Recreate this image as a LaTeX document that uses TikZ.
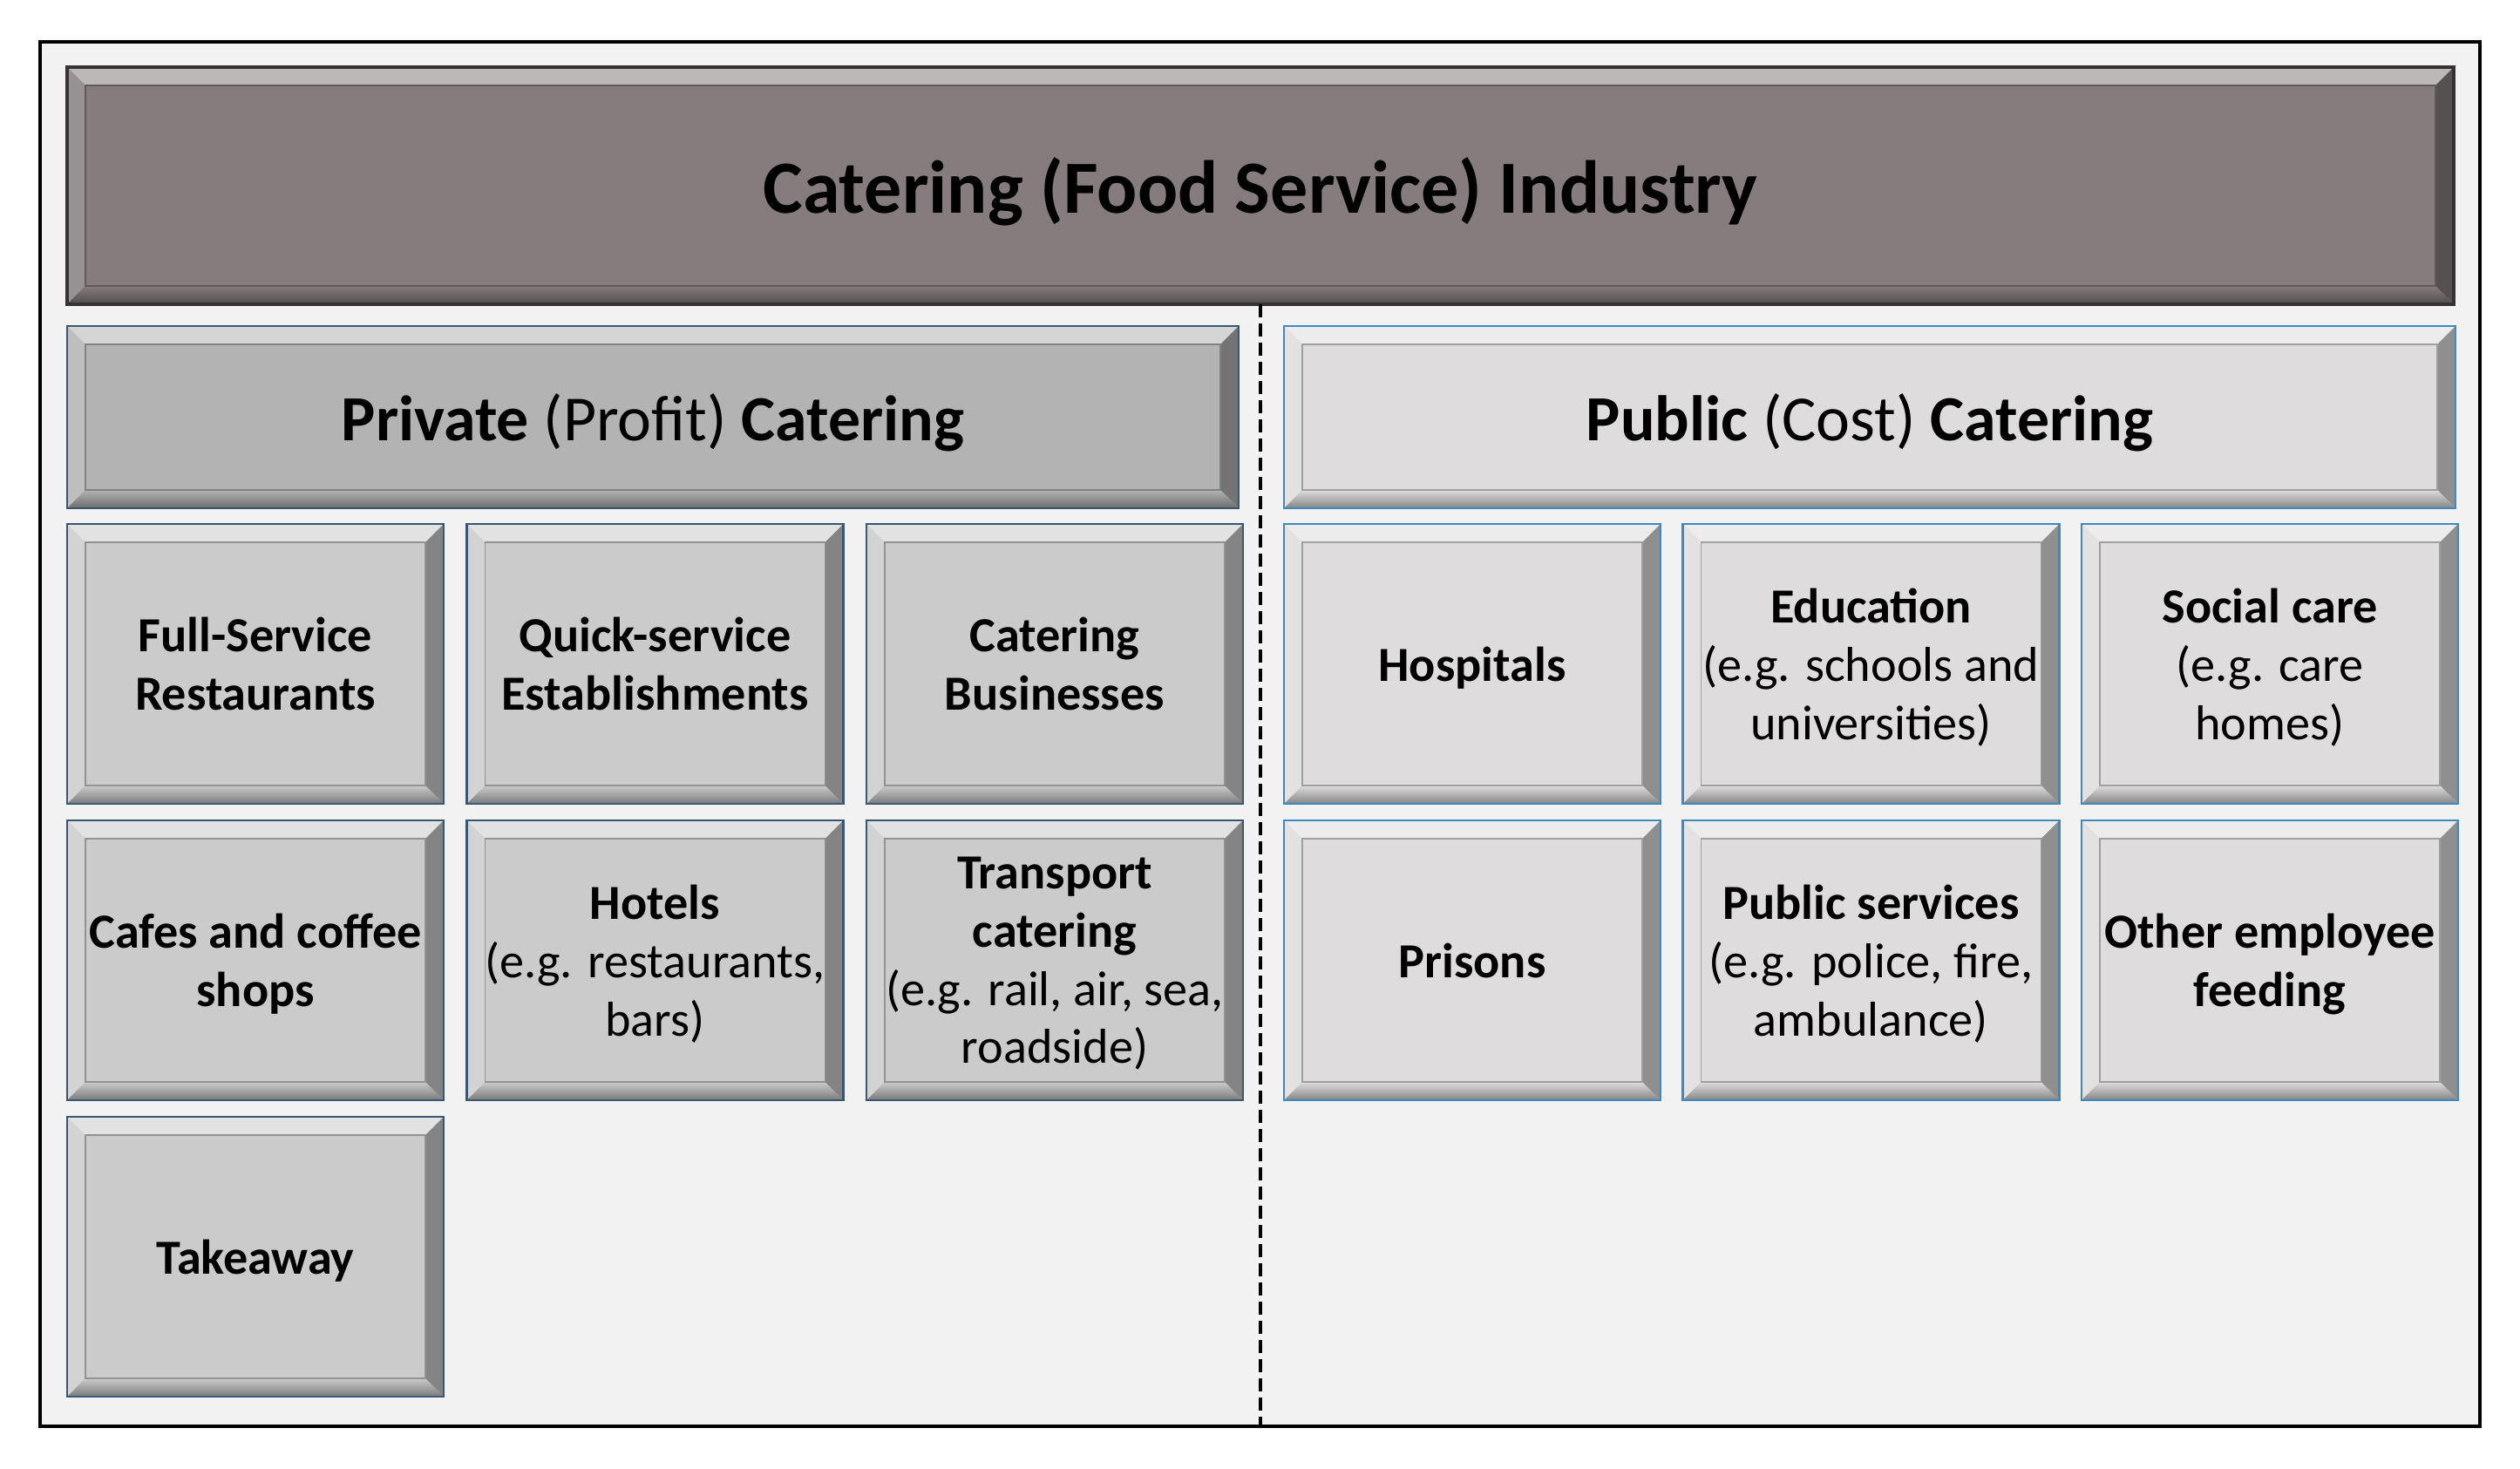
\documentclass[tikz,border=0pt]{standalone}
\usepackage{fontspec}
\setmainfont{Carlito}
\usetikzlibrary{positioning}

\definecolor{frameback}{HTML}{F2F2F2}
\definecolor{topfill}{HTML}{857D7D}
\definecolor{topline}{HTML}{363232}
\definecolor{privhfill}{HTML}{B3B3B3}
\definecolor{privfill}{HTML}{CBCBCB}
\definecolor{privline}{HTML}{3B5675}
\definecolor{pubfill}{HTML}{DEDCDC}
\definecolor{publine}{HTML}{3F89BE}

\newcommand\tilefont{\fontsize{16}{19}\selectfont\bfseries}
\newcommand\headfont{\fontsize{21}{25}\selectfont}
\newcommand\topfont{\fontsize{24.5}{29}\selectfont\bfseries}
\newcommand\bevw{0.21cm}

% raised edge of a box, drawn inside its path
\newcommand\bevel[1]{%
  \coordinate (bnw) at (path picture bounding box.north west);
  \coordinate (bse) at (path picture bounding box.south east);
  \coordinate (bne) at (bnw -| bse);
  \coordinate (bsw) at (bse -| bnw);
  \coordinate (inw) at ([shift={(\bevw,-\bevw)}]bnw);
  \coordinate (ine) at ([shift={(-\bevw,-\bevw)}]bne);
  \coordinate (ise) at ([shift={(-\bevw,\bevw)}]bse);
  \coordinate (isw) at ([shift={(\bevw,\bevw)}]bsw);
  \fill[#1!55!white] (bnw) -- (bne) -- (ine) -- (inw) -- cycle;
  \fill[#1!85!white] (bnw) -- (inw) -- (isw) -- (bsw) -- cycle;
  \fill[#1!65!black] (bne) -- (bse) -- (ise) -- (ine) -- cycle;
  \shade[top color=#1, bottom color=#1!60!black] (bsw) -- (isw) -- (ise) -- (bse) -- cycle;
  \draw[#1!72!black, line width=0.5pt] (inw) rectangle (ise);
}

\tikzset{
  box/.style={rectangle, inner sep=0pt, outer sep=0pt, align=center, line width=0.8pt, text depth=0pt},
  topbox/.style={box, fill=topfill, draw=topline, line width=1pt, path picture={\bevel{topfill}},
    minimum width=27.38cm, minimum height=2.72cm, font=\topfont},
  privhead/.style={box, fill=privhfill, draw=privline, path picture={\bevel{privhfill}},
    minimum width=13.44cm, minimum height=2.09cm, font=\headfont},
  pubhead/.style={box, fill=pubfill, draw=publine, path picture={\bevel{pubfill}},
    minimum width=13.44cm, minimum height=2.09cm, font=\headfont},
  privtile/.style={box, fill=privfill, draw=privline, path picture={\bevel{privfill}},
    minimum width=4.32cm, minimum height=3.21cm, font=\tilefont},
  pubtile/.style={box, fill=pubfill, draw=publine, path picture={\bevel{pubfill}},
    minimum width=4.32cm, minimum height=3.21cm, font=\tilefont},
  divider/.style={line width=0.9pt, dash pattern=on 0.15cm off 0.07cm}
}

\begin{document}
\begin{tikzpicture}
  \fill[white] (0,0) rectangle (28.91,-16.85);
  \useasboundingbox (0,0) rectangle (28.91,-16.85);
  \draw[line width=1.1pt, fill=frameback] (0.46,-0.48) rectangle (28.45,-16.36);
  \coordinate (fbot) at (0.46,-16.36);

  \node[topbox] (industry) at (14.46,-2.13) {Catering (Food Service) Industry};
  \node[privhead, anchor=north west] (private) at (0.77,-3.74) {\textbf{Private} (Profit) \textbf{Catering}};
  \node[pubhead, anchor=north west] (public) at (14.73,-3.74) {\textbf{Public} (Cost) \textbf{Catering}};

  % private side
  \node[privtile, below=0.18cm of private.south west, anchor=north west] (fullserv) {Full-Service\\Restaurants};
  \node[privtile, right=0.265cm of fullserv] (quickserv) {Quick-service\\Establishments};
  \node[privtile, right=0.265cm of quickserv] (catbiz) {Catering\\Businesses};
  \node[privtile, below=0.19cm of fullserv] (cafes) {Cafes and coffee\\shops};
  \node[privtile, below=0.19cm of quickserv] (hotels) {Hotels\\{\mdseries (e.g. restaurants,}\\{\mdseries bars)}};
  \node[privtile, below=0.19cm of catbiz] (transport) {Transport\\catering\\{\mdseries (e.g. rail, air, sea,}\\{\mdseries roadside)}};
  \node[privtile, below=0.19cm of cafes] (takeaway) {Takeaway};

  % public side
  \node[pubtile, below=0.18cm of public.south west, anchor=north west] (hospitals) {Hospitals};
  \node[pubtile, right=0.255cm of hospitals] (education) {Education\\{\mdseries (e.g. schools and}\\{\mdseries universities)}};
  \node[pubtile, right=0.255cm of education] (socialcare) {Social care\\{\mdseries (e.g. care}\\{\mdseries homes)}};
  \node[pubtile, below=0.19cm of hospitals] (prisons) {Prisons};
  \node[pubtile, below=0.19cm of education] (pubserv) {Public services\\{\mdseries (e.g. police, fire,}\\{\mdseries ambulance)}};
  \node[pubtile, below=0.19cm of socialcare] (employee) {Other employee\\feeding};

  \draw[divider] (industry.south) -- (industry.south |- fbot);
\end{tikzpicture}
\end{document}
